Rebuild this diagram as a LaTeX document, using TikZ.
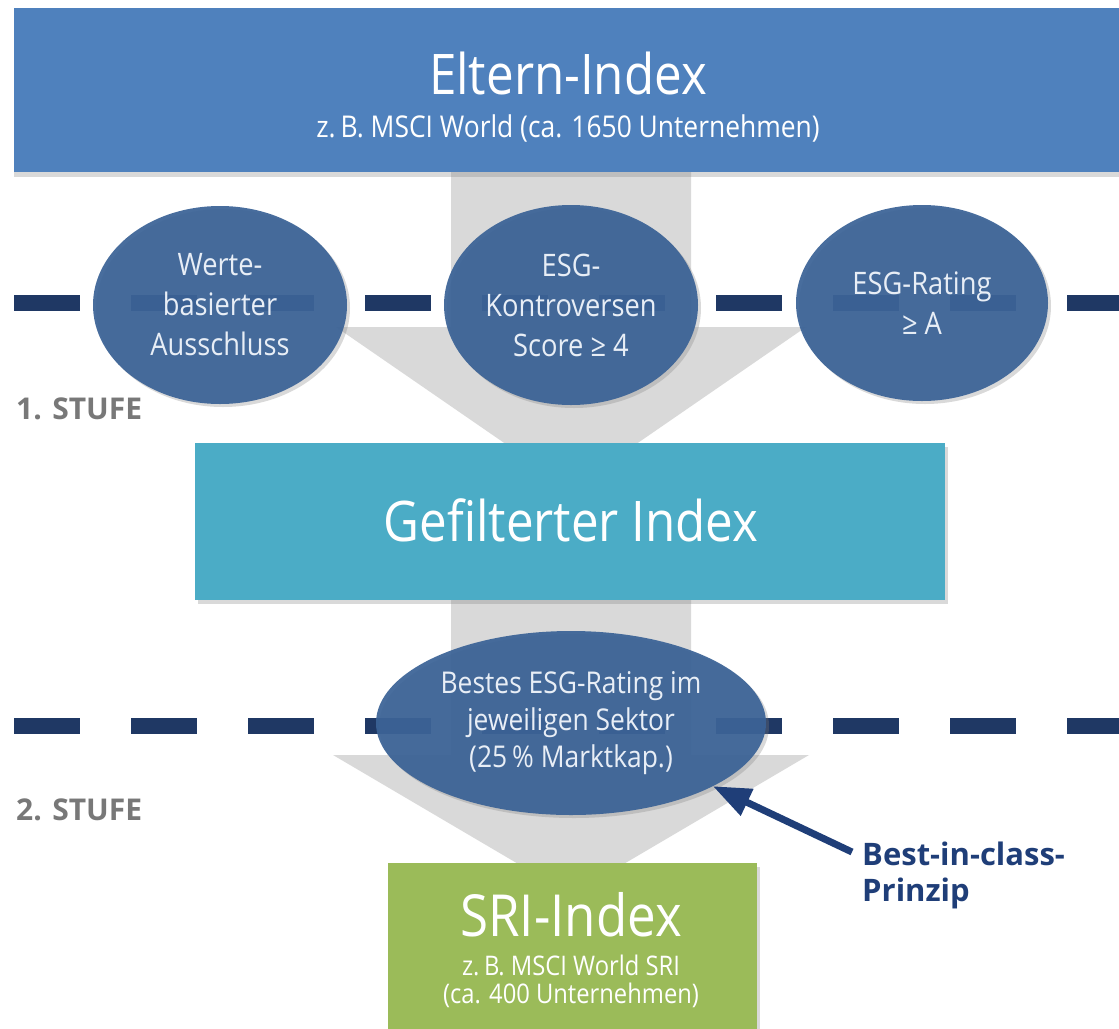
\documentclass[tikz,border=0pt]{standalone}
\usepackage{fontspec}
\setmainfont{Open Sans}[FakeStretch=0.88]
\newfontfamily\plainsans{Open Sans}
\usetikzlibrary{shadows,arrows.meta,shapes.geometric}
\definecolor{topblue}{RGB}{79,129,189}
\definecolor{cyanbox}{RGB}{75,172,198}
\definecolor{greenbox}{RGB}{155,187,89}
\definecolor{ellblue}{RGB}{58,98,150}
\definecolor{ellwhite}{RGB}{232,238,246}
\definecolor{dashnavy}{RGB}{31,56,100}
\definecolor{arrowgray}{RGB}{217,217,217}
\definecolor{stufegray}{RGB}{120,120,120}
\definecolor{bicnavy}{RGB}{31,62,120}
\tikzset{
  gbox/.style={rectangle, inner sep=0pt, outer sep=0pt, text=white},
  boxshadow/.style={drop shadow={shadow xshift=3pt, shadow yshift=-4pt, opacity=0.3}},
  ell/.style={ellipse, fill=ellblue, fill opacity=0.93, text opacity=1, text=ellwhite,
    inner sep=0pt, outer sep=0pt, align=center,
    drop shadow={shadow xshift=3pt, shadow yshift=-3pt, opacity=0.3}},
  elltext/.style={font=\fontsize{31}{40}\selectfont},
  dashline/.style={draw=dashnavy, line width=16pt, dash pattern=on 66pt off 51pt},
  bigarrow/.style={fill=arrowgray},
  boxtitle/.style={text=white, inner sep=0pt, anchor=base, font=\fontsize{56}{60}\selectfont},
  boxsub/.style={text=white, inner sep=0pt, anchor=base, font=\fontsize{30}{34}\selectfont},
  stufe/.style={font=\plainsans\bfseries\fontsize{30}{34}\selectfont, text=stufegray, anchor=west, inner sep=0pt},
  bicarrow/.style={draw=bicnavy, line width=7pt, -{Triangle[length=38pt,width=28pt]}},
  biclabel/.style={font=\plainsans\bfseries\fontsize{31}{36}\selectfont, text=bicnavy, align=left, inner sep=0pt, anchor=north west}
}
\begin{document}
\begin{tikzpicture}[x=1pt,y=-1pt]
\useasboundingbox (0,0) rectangle (1119,1028);
% big gray block arrows
\fill[bigarrow] (451,170) -- (691,170) -- (691,327) -- (806,327) -- (571,489) -- (336,327) -- (451,327) -- cycle;
\fill[bigarrow] (451,598) -- (691,598) -- (691,755) -- (809,755) -- (571,895) -- (333,755) -- (451,755) -- cycle;
% dashed stage lines
\draw[dashline] (14,303) -- (1119,303);
\draw[dashline] (14,726) -- (1119,726);
% parent index
\node[gbox, fill=topblue, minimum width=1105pt, minimum height=164pt,
  drop shadow={shadow xshift=0pt, shadow yshift=-5pt, opacity=0.3}] (parent) at (566.5,90) {};
\node[boxtitle] (ptitle) at (568,94) {Eltern-Index};
\node[boxsub] (psub) at (568,137) {z.\,B. MSCI World (ca. 1650 Unternehmen)};
% filters stage 1
\node[ell, elltext, minimum width=254pt, minimum height=198pt] (e1) at (220,305) {Werte-\\basierter\\Ausschluss};
\node[ell, elltext, minimum width=254pt, minimum height=200pt] (e2) at (571,305) {ESG-\\Kontroversen\\Score ≥ 4};
\node[ell, elltext, minimum width=252pt, minimum height=196pt] (e3) at (922,303) {ESG-Rating\\≥ A};
\node[stufe] (st1) at (16,409) {1. STUFE};
% filtered index
\node[gbox, fill=cyanbox, minimum width=750pt, minimum height=157pt, boxshadow] (filt) at (570,521.5) {};
\node[boxtitle] (ftitle) at (571,541) {Gefilterter Index};
% stage 2
\node[ell, font=\fontsize{30}{37}\selectfont, minimum width=390pt, minimum height=184pt] (e4) at (571,723) {Bestes ESG-Rating im\\jeweiligen Sektor\\(25\,\% Marktkap.)};
\node[stufe] (st2) at (16,810) {2. STUFE};
% SRI index
\node[gbox, fill=greenbox, minimum width=369pt, minimum height=180pt, boxshadow] (sri) at (572.5,953) {};
\node[boxtitle, font=\fontsize{58}{62}\selectfont] (stitle) at (571,936) {SRI-Index};
\node[boxsub, font=\fontsize{27}{30}\selectfont] (ssub1) at (571,975) {z.\,B. MSCI World SRI};
\node[boxsub, font=\fontsize{27}{30}\selectfont] (ssub2) at (571,1003) {(ca. 400 Unternehmen)};
% best-in-class
\node[biclabel] (bic) at (862,842) {Best-in-class-\\Prinzip};
\coordinate (bictail) at (852,852);
\draw[bicarrow] (bictail) -- (e4.-24);
\end{tikzpicture}
\end{document}
